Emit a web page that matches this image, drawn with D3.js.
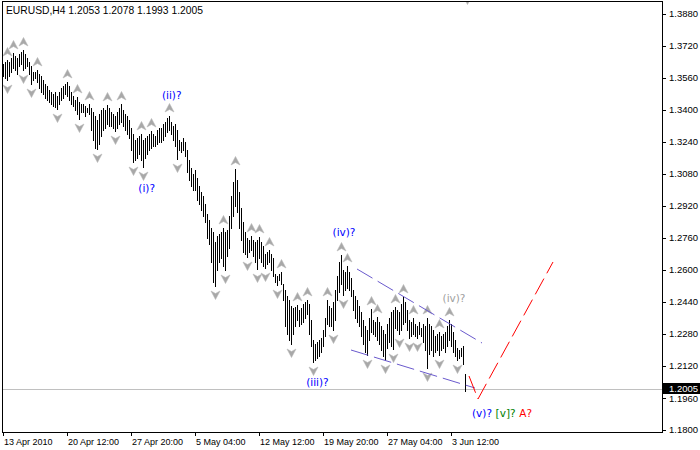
<!DOCTYPE html>
<html><head><meta charset="utf-8">
<script src="https://cdn.jsdelivr.net/npm/d3@7"></script>
<style>body{margin:0;background:#fff}svg{display:block}</style>
</head><body>
<script>
// ---- data ----
const symbolTitle = "EURUSD,H4  1.2053 1.2078 1.1993 1.2005";
const highs = [
1.3630,1.3640,1.3650,1.3640,1.3660,1.3685,1.3670,1.3660,1.3680,1.3690,
1.3700,1.3680,1.3660,1.3640,1.3620,1.3590,1.3590,1.3600,1.3580,1.3570,
1.3550,1.3530,1.3520,1.3500,1.3490,1.3480,1.3490,1.3470,1.3490,1.3510,
1.3520,1.3530,1.3540,1.3520,1.3490,1.3470,1.3450,1.3465,1.3440,1.3430,
1.3430,1.3420,1.3410,1.3430,1.3410,1.3390,1.3370,1.3350,1.3380,1.3400,
1.3410,1.3400,1.3425,1.3410,1.3390,1.3380,1.3370,1.3390,1.3410,1.3430,
1.3400,1.3380,1.3370,1.3350,1.3310,1.3280,1.3250,1.3260,1.3270,1.3280,
1.3250,1.3260,1.3270,1.3280,1.3295,1.3280,1.3270,1.3300,1.3310,1.3310,
1.3330,1.3340,1.3360,1.3370,1.3340,1.3320,1.3330,1.3300,1.3250,1.3240,
1.3260,1.3240,1.3200,1.3150,1.3110,1.3080,1.3100,1.3060,1.3020,1.2990,
1.2970,1.2930,1.2880,1.2850,1.2810,1.2790,1.2740,1.2770,1.2780,1.2790,
1.2810,1.2790,1.2800,1.2870,1.2970,1.3040,1.3105,1.3050,1.2990,1.2910,
1.2840,1.2790,1.2760,1.2750,1.2770,1.2750,1.2740,1.2750,1.2765,1.2740,
1.2720,1.2680,1.2690,1.2700,1.2680,1.2660,1.2580,1.2570,1.2580,1.2590,
1.2530,1.2500,1.2470,1.2450,1.2420,1.2410,1.2415,1.2425,1.2400,1.2410,
1.2430,1.2440,1.2450,1.2430,1.2350,1.2250,1.2230,1.2240,1.2250,1.2260,
1.2300,1.2360,1.2450,1.2420,1.2410,1.2440,1.2500,1.2570,1.2640,1.2675,
1.2600,1.2590,1.2620,1.2590,1.2560,1.2500,1.2470,1.2450,1.2420,1.2390,
1.2350,1.2320,1.2300,1.2360,1.2405,1.2350,1.2340,1.2365,1.2340,1.2320,
1.2300,1.2280,1.2330,1.2360,1.2390,1.2400,1.2415,1.2400,1.2390,1.2430,
1.2465,1.2440,1.2400,1.2350,1.2340,1.2360,1.2330,1.2320,1.2340,1.2310,
1.2330,1.2320,1.2360,1.2330,1.2320,1.2300,1.2270,1.2280,1.2290,1.2270,
1.2280,1.2290,1.2320,1.2350,1.2330,1.2290,1.2250,1.2210,1.2200,1.2210,
1.2220,1.2078];
const lows = [
1.3570,1.3560,1.3550,1.3570,1.3590,1.3610,1.3600,1.3580,1.3620,1.3630,
1.3600,1.3610,1.3620,1.3580,1.3530,1.3550,1.3560,1.3540,1.3510,1.3490,
1.3480,1.3460,1.3450,1.3440,1.3430,1.3420,1.3415,1.3405,1.3430,1.3450,
1.3460,1.3480,1.3470,1.3450,1.3430,1.3420,1.3400,1.3380,1.3355,1.3390,
1.3390,1.3370,1.3390,1.3380,1.3300,1.3250,1.3210,1.3205,1.3230,1.3270,
1.3300,1.3310,1.3330,1.3320,1.3320,1.3310,1.3295,1.3310,1.3330,1.3340,
1.3320,1.3300,1.3280,1.3260,1.3200,1.3140,1.3150,1.3160,1.3180,1.3150,
1.3115,1.3160,1.3180,1.3200,1.3210,1.3220,1.3220,1.3230,1.3240,1.3240,
1.3250,1.3270,1.3290,1.3300,1.3280,1.3250,1.3220,1.3155,1.3200,1.3190,
1.3200,1.3170,1.3090,1.3050,1.3020,1.3000,1.3000,1.2950,1.2930,1.2900,
1.2870,1.2840,1.2760,1.2730,1.2640,1.2540,1.2520,1.2600,1.2640,1.2660,
1.2620,1.2600,1.2670,1.2710,1.2810,1.2870,1.2920,1.2890,1.2810,1.2750,
1.2690,1.2680,1.2665,1.2690,1.2700,1.2670,1.2640,1.2605,1.2660,1.2640,
1.2620,1.2610,1.2630,1.2640,1.2600,1.2570,1.2540,1.2525,1.2550,1.2530,
1.2450,1.2320,1.2280,1.2250,1.2230,1.2280,1.2320,1.2350,1.2320,1.2330,
1.2340,1.2360,1.2380,1.2280,1.2220,1.2140,1.2150,1.2160,1.2170,1.2190,
1.2220,1.2270,1.2330,1.2320,1.2320,1.2300,1.2350,1.2450,1.2490,1.2530,
1.2475,1.2500,1.2510,1.2500,1.2470,1.2400,1.2360,1.2340,1.2320,1.2270,
1.2230,1.2190,1.2175,1.2250,1.2290,1.2280,1.2270,1.2250,1.2230,1.2200,
1.2170,1.2150,1.2210,1.2240,1.2220,1.2205,1.2310,1.2300,1.2280,1.2300,
1.2330,1.2340,1.2300,1.2260,1.2270,1.2280,1.2270,1.2260,1.2280,1.2270,
1.2240,1.2200,1.2110,1.2180,1.2200,1.2170,1.2190,1.2200,1.2175,1.2200,
1.2210,1.2190,1.2220,1.2250,1.2220,1.2190,1.2170,1.2150,1.2160,1.2170,
1.2130,1.1993];
const timeLabels = ["13 Apr 2010","20 Apr 12:00","27 Apr 20:00","5 May 04:00","12 May 12:00","19 May 20:00","27 May 04:00","3 Jun 12:00"];
const timeLabelBars = [0,32,64,96,128,160,192,224];
const priceTicks = [1.3880,1.3720,1.3560,1.3400,1.3240,1.3080,1.2920,1.2760,1.2600,1.2440,1.2280,1.2120,1.1960,1.1800];
const lastPrice = 1.2005;
const upFractals = [2,5,10,17,32,37,43,52,59,69,74,83,110,116,124,128,133,139,147,152,162,169,172,184,187,196,200,205,212,218,223];
const downFractals = [2,10,14,27,38,47,56,65,70,87,106,111,122,127,131,137,144,155,165,170,182,191,195,198,203,207,212,218,227];
const channelUpper = [[177,1.2605],[239.5,1.2235]];
const channelLower = [[174,1.2200],[236,1.2010]];
const projection = [[233,1.2070],[237.5,1.1955],[275,1.2640]];
const waveLabels = [
  {t:"(i)?",   bar:71.85,  p:1.3010, c:"#0000ff"},
  {t:"(ii)?",  bar:84.35,  p:1.3475, c:"#0000ff"},
  {t:"(iii)?", bar:157.2,  p:1.2040, c:"#0000ff"},
  {t:"(iv)?",  bar:170.5,  p:1.2790, c:"#0000ff"},
  {t:"(iv)?",  bar:225.5,  p:1.2460, c:"#a0a0a0"},
  {t:"(v)?",   bar:239.5,  p:1.1885, c:"#0000ff"},
  {t:"[v]?",   bar:251.3,  p:1.1885, c:"#008000"},
  {t:"A?",     bar:261.3,  p:1.1885, c:"#ff0000"}
];

// ---- drawing ----
const W = 700, H = 450;
const svg = d3.select("body").append("svg").attr("width", W).attr("height", H)
  .style("font-family", "'Liberation Sans', Arial, sans-serif");

const x = d3.scaleLinear().domain([0, 231]).range([3, 465]);
const y = d3.scaleLinear().domain([1.1800, 1.3880]).range([430, 14]);
const plotL = 2, plotR = 662, plotT = 1, plotB = 432;

svg.append("defs").append("clipPath").attr("id", "plot")
  .append("rect").attr("x", plotL + 1).attr("y", plotT + 1)
  .attr("width", plotR - plotL - 1).attr("height", plotB - plotT - 1);

const plot = svg.append("g").attr("clip-path", "url(#plot)");

// current price line
plot.append("line")
  .attr("x1", plotL).attr("x2", plotR)
  .attr("y1", Math.round(y(lastPrice)) + 0.5).attr("y2", Math.round(y(lastPrice)) + 0.5)
  .attr("stroke", "#c0c0c0").attr("stroke-width", 1);

// bars
plot.append("g").selectAll("rect").data(highs.map((h, i) => ({i, h, l: lows[i]})))
  .join("rect")
  .attr("x", d => Math.round(x(d.i)))
  .attr("y", d => Math.round(y(d.h)))
  .attr("width", 1)
  .attr("height", d => Math.round(y(d.l)) - Math.round(y(d.h)) + 1)
  .attr("fill", "#000")
  .attr("shape-rendering", "crispEdges");

// fractal arrows
const upPath = "M0,-4.5 L4.5,4 L0,1.5 L-4.5,4 Z";
const dnPath = "M0,4.5 L4.5,-4 L0,-1.5 L-4.5,-4 Z";
const fr = plot.append("g").attr("fill", "#a8a8a8").attr("stroke", "#b8b8b8").attr("stroke-width", 0.6);
fr.selectAll("path.up").data(upFractals).join("path").attr("class", "up")
  .attr("d", upPath)
  .attr("transform", i => `translate(${Math.round(x(i)) + 0.5},${Math.round(y(highs[i])) - 8})`);
fr.selectAll("path.dn").data(downFractals).join("path").attr("class", "dn")
  .attr("d", dnPath)
  .attr("transform", i => `translate(${Math.round(x(i)) + 0.5},${Math.round(y(lows[i])) + 9})`);
// clipped arrow at the top edge (beyond the visible range)
fr.append("path").attr("d", dnPath)
  .attr("transform", `translate(${Math.round(x(232)) + 0.5},${plotT - 1})`);

// channel lines
const line = d3.line().x(d => x(d[0])).y(d => y(d[1]));
[channelUpper, channelLower].forEach(c => {
  plot.append("path").attr("d", line(c)).attr("fill", "none")
    .attr("stroke", "#6a5acd").attr("stroke-width", 1).attr("stroke-dasharray", "18,6");
});
// projection
plot.append("path").attr("d", line(projection)).attr("fill", "none")
  .attr("stroke", "#ff0000").attr("stroke-width", 1).attr("stroke-dasharray", "18,6");

// wave labels
plot.append("g").selectAll("text").data(waveLabels).join("text")
  .attr("x", d => x(d.bar)).attr("y", d => y(d.p)).attr("dy", "0.36em")
  .attr("text-anchor", "middle")
  .style("font-family", "'DejaVu Sans', Verdana, sans-serif")
  .style("font-size", "10.5px")
  .attr("fill", d => d.c)
  .text(d => d.t);

// frame
svg.append("rect").attr("x", plotL + 0.5).attr("y", plotT + 0.5)
  .attr("width", plotR - plotL).attr("height", plotB - plotT)
  .attr("fill", "none").attr("stroke", "#000").attr("stroke-width", 1)
  .attr("shape-rendering", "crispEdges");

// price axis
const ya = svg.append("g");
ya.selectAll("line").data(priceTicks).join("line")
  .attr("x1", plotR).attr("x2", plotR + 4)
  .attr("y1", d => Math.round(y(d)) + 0.5).attr("y2", d => Math.round(y(d)) + 0.5)
  .attr("stroke", "#000").attr("shape-rendering", "crispEdges");
ya.selectAll("text").data(priceTicks).join("text")
  .attr("x", plotR + 7).attr("y", d => Math.round(y(d)) + (d === 1.1960 ? 1 : 0)).attr("dy", "0.36em")
  .style("font-size", "9.5px").attr("fill", "#000")
  .text(d => d.toFixed(4));

// last price box
const ly = Math.round(y(lastPrice));
svg.append("rect").attr("x", plotR + 1).attr("y", ly - 6).attr("width", W - plotR - 1).attr("height", 11)
  .attr("fill", "#000");
svg.append("text").attr("x", plotR + 7).attr("y", ly - 0.5).attr("dy", "0.36em")
  .style("font-size", "9.5px").attr("fill", "#fff").text(lastPrice.toFixed(4));

// time axis
const xa = svg.append("g");
xa.selectAll("line").data(timeLabelBars).join("line")
  .attr("x1", d => Math.round(x(d)) + 0.5).attr("x2", d => Math.round(x(d)) + 0.5)
  .attr("y1", plotB).attr("y2", plotB + 4)
  .attr("stroke", "#000").attr("shape-rendering", "crispEdges");
xa.selectAll("text").data(timeLabelBars).join("text")
  .attr("x", d => Math.round(x(d)) + 1).attr("y", plotB + 13)
  .style("font-size", "9px").attr("fill", "#000")
  .text((d, i) => timeLabels[i]);

// title
svg.append("text").attr("x", 6).attr("y", 14)
  .style("font-size", "10.3px").attr("fill", "#000").text(symbolTitle);
</script>
</body></html>
